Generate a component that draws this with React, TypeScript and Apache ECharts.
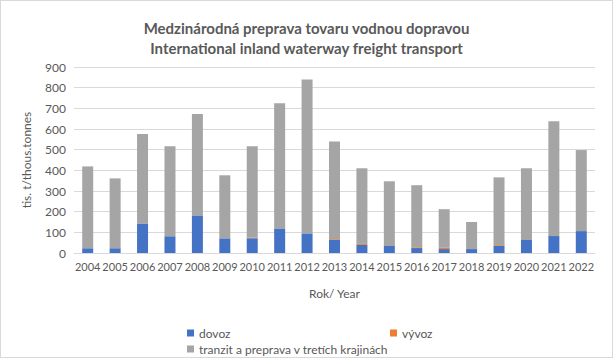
import React, { useEffect, useRef } from "react";
import * as echarts from "echarts";

const years = ["2004","2005","2006","2007","2008","2009","2010","2011","2012","2013","2014","2015","2016","2017","2018","2019","2020","2021","2022"];
const dovoz = [23, 23, 143, 81, 182, 71, 71, 119, 95, 63, 39, 34, 24, 19, 19, 34, 63, 82, 106];
const vyvoz = [0, 0, 0, 0, 0, 0, 3, 0, 0, 4, 5, 0, 4, 6, 0, 4, 0, 0, 0];
const tranzit = [396, 338, 433, 435, 490, 305, 442, 606, 745, 473, 366, 313, 300, 187, 131, 328, 347, 556, 392];

const seriesNames = ["dovoz", "vývoz", "tranzit a preprava v tretích krajinách"];
const titleLines = ["Medzinárodná preprava tovaru vodnou dopravou", "International inland waterway freight transport"];
const FONT = "Lato, 'Open Sans', sans-serif";
const TXT = "#595959";

export default function App() {
  const ref = useRef<HTMLDivElement>(null);
  useEffect(() => {
    document.body.style.margin = "0";
    const chart = echarts.init(ref.current!, null, { renderer: "svg" });
    const legendBase = {
      icon: "rect",
      itemWidth: 7,
      itemHeight: 7,
      itemGap: 10,
      textStyle: { color: TXT, fontSize: 12, fontFamily: FONT },
      selectedMode: false,
    };
    chart.setOption({
      animation: false,
      backgroundColor: "#fff",
      title: {
        text: titleLines.join("\n"),
        left: "center",
        top: 12,
        textStyle: { color: TXT, fontSize: 15, fontWeight: "bold", fontFamily: FONT, lineHeight: 20 },
      },
      legend: [
        { ...legendBase, data: [seriesNames[0]], left: 181, top: 321 },
        { ...legendBase, data: [seriesNames[1]], left: 384, top: 321 },
        { ...legendBase, data: [seriesNames[2]], left: 181, top: 337 },
      ],
      grid: { left: 73, right: 17, top: 66, bottom: 104, containLabel: false },
      xAxis: {
        type: "category",
        data: years,
        name: "Rok/ Year",
        nameLocation: "middle",
        nameGap: 34,
        nameTextStyle: { color: TXT, fontSize: 12, fontFamily: FONT },
        axisLine: { lineStyle: { color: "#d9d9d9" } },
        axisTick: { show: false },
        axisLabel: { color: TXT, fontSize: 11, fontFamily: FONT, interval: 0, margin: 8 },
      },
      yAxis: {
        type: "value",
        min: 0,
        max: 900,
        interval: 100,
        name: "tis. t/thous.tonnes",
        nameLocation: "middle",
        nameGap: 42,
        nameTextStyle: { color: TXT, fontSize: 12, fontFamily: FONT },
        axisLine: { show: false },
        axisTick: { show: false },
        axisLabel: { color: TXT, fontSize: 12, fontFamily: FONT, margin: 8 },
        splitLine: { lineStyle: { color: "#d9d9d9" } },
      },
      series: [
        { name: seriesNames[0], type: "bar", stack: "t", data: dovoz, barWidth: 11, itemStyle: { color: "#4472c4" } },
        { name: seriesNames[1], type: "bar", stack: "t", data: vyvoz, barWidth: 11, itemStyle: { color: "#ed7d31" } },
        { name: seriesNames[2], type: "bar", stack: "t", data: tranzit, barWidth: 11, itemStyle: { color: "#a5a5a5" } },
      ],
    });
    return () => chart.dispose();
  }, []);
  return (
    <div
      ref={ref}
      style={{ position: "absolute", left: 0, top: 0, width: 613, height: 358, boxSizing: "border-box", border: "1px solid #d9d9d9" }}
    />
  );
}
